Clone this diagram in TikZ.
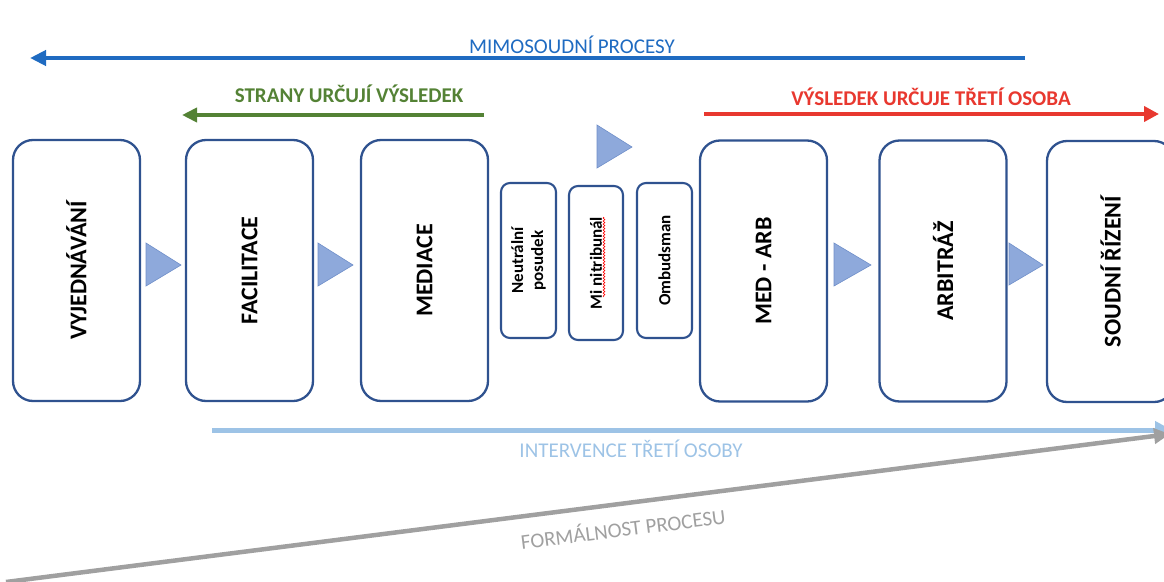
\documentclass[tikz,border=0pt]{standalone}
\usepackage{fontspec}
\setmainfont{Carlito}
\usetikzlibrary{arrows.meta,decorations.pathmorphing}
\definecolor{boxline}{HTML}{2F528F}
\definecolor{trifill}{HTML}{8EA9DB}
\definecolor{triline}{HTML}{6F8FC9}
\definecolor{mimoblue}{HTML}{1F6BC1}
\definecolor{stranygreen}{HTML}{548235}
\definecolor{tretired}{HTML}{E8382F}
\definecolor{intervblue}{HTML}{9DC3E6}
\definecolor{formgray}{HTML}{A0A0A0}
\begin{document}
\begin{tikzpicture}[x=1pt,y=-1pt,
  stagebox/.style={draw=boxline, line width=2.3pt, rounded corners=20pt, fill=white,
    rotate=90, minimum width=261pt, minimum height=127pt, inner sep=0pt,
    font=\fontsize{24}{28}\selectfont\bfseries},
  smallbox/.style={draw=boxline, line width=2.1pt, rounded corners=9pt, fill=white,
    rotate=90, minimum width=155pt, minimum height=55pt, inner sep=0pt, align=center,
    font=\fontsize{17}{20}\selectfont\bfseries},
  stepmark/.style={fill=trifill, draw=triline, line width=0.6pt},
  headtext/.style={font=\fontsize{21}{25}\selectfont, anchor=base, inner sep=0pt},
  boldhead/.style={headtext, font=\fontsize{21}{25}\selectfont\bfseries}
]
\useasboundingbox (0,0) rectangle (1164,581);
\clip (0,0) rectangle (1164,581);

% process stages
\node[stagebox] (vyj)    at (76.5,270.5)  {VYJEDNÁVÁNÍ};
\node[stagebox] (fac)    at (249.5,270.5) {FACILITACE};
\node[stagebox] (med)    at (424.5,270.5) {MEDIACE};
\node[stagebox] (medarb) at (763.5,271)   {MED - ARB};
\node[stagebox] (arb)    at (943,271)     {ARBITRÁŽ};
\node[stagebox] (soud)   at (1110.5,271.5){SOUDNÍ ŘÍZENÍ};

% hybrid procedures in the middle
\node[smallbox] (neut) at (528.5,260.5)   {Neutrální\\posudek};
\node[smallbox, minimum width=154pt, minimum height=54pt] (mini) at (596,263) {Mi nitribunál};
\node[smallbox] (omb)  at (664.5,260.5) {Ombudsman};
\draw[red, line width=0.6pt, decorate, decoration={snake, amplitude=0.9pt, segment length=3pt}]
  (604,297) -- (604,217);

% step markers
\path[stepmark] (146,243) -- (146,286) -- (181,265) -- cycle;
\path[stepmark] (318,243) -- (318,286) -- (353,265) -- cycle;
\path[stepmark] (834,243) -- (834,286) -- (871,265) -- cycle;
\path[stepmark] (1009,243) -- (1009,285) -- (1043,265) -- cycle;
\path[stepmark] (597,125) -- (597,168) -- (632,147) -- cycle;

% out-of-court processes
\coordinate (mimoA) at (1025,58);
\coordinate (mimoB) at (30,58);
\draw[mimoblue, line width=4pt, -{Triangle[length=16pt,width=15pt]}] (mimoA) -- (mimoB);
\node[headtext, text=mimoblue] (mimoT) at (572,53) {MIMOSOUDNÍ PROCESY};

% parties decide
\coordinate (stranyA) at (484,115);
\coordinate (stranyB) at (182,115);
\draw[stranygreen, line width=4pt, -{Triangle[length=15pt,width=14pt]}] (stranyA) -- (stranyB);
\node[boldhead, text=stranygreen] (stranyT) at (349,102) {STRANY URČUJÍ VÝSLEDEK};

% third party decides
\coordinate (tretiA) at (704,114);
\coordinate (tretiB) at (1159,114);
\draw[tretired, line width=4pt, -{Triangle[length=15pt,width=15pt]}] (tretiA) -- (tretiB);
\node[boldhead, text=tretired] (tretiT) at (931,105) {VÝSLEDEK URČUJE TŘETÍ OSOBA};

% third-party intervention
\coordinate (intA) at (212,430);
\coordinate (intB) at (1172,430);
\draw[intervblue, line width=5pt, -{Triangle[length=17pt,width=17pt]}] (intA) -- (intB);
\node[headtext, text=intervblue] (intT) at (631,457) {INTERVENCE TŘETÍ OSOBY};

% formality of the process
\coordinate (formA) at (6,582);
\coordinate (formB) at (1170,434);
\draw[formgray, line width=4.5pt, -{Triangle[length=16pt,width=15pt]}] (formA) -- (formB);
\node[font=\fontsize{21}{25}\selectfont, text=formgray, rotate=7.2, inner sep=0pt] (formT)
  at (623,528) {FORMÁLNOST PROCESU};
\end{tikzpicture}
\end{document}
